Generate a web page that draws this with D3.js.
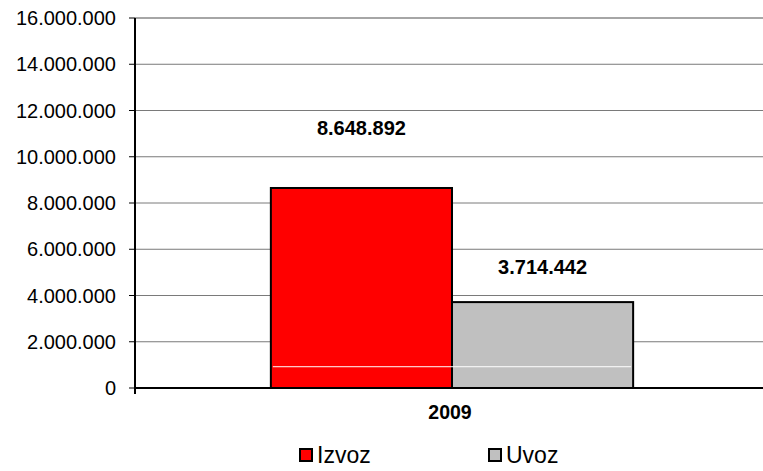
<!DOCTYPE html>
<html>
<head>
<meta charset="utf-8">
<script src="https://cdn.jsdelivr.net/npm/d3@7"></script>
<style>
  body { margin: 0; background: #fff; }
  svg { display: block; font-family: Arial, "Liberation Sans", sans-serif; }
</style>
</head>
<body>
<svg id="chart" width="763" height="471"></svg>
<script>
// Data
const categories = ['2009'];
const seriesNames = ['Izvoz', 'Uvoz'];
const seriesValues = [8648892, 3714442];
const seriesColors = ['#ff0000', '#c0c0c0'];
const yTicks = [0, 2000000, 4000000, 6000000, 8000000, 10000000, 12000000, 14000000, 16000000];

const svg = d3.select('#chart');
const plotLeft = 135, plotRight = 769, plotTop = 18, plotBottom = 388;

const fmt = v => d3.format(',')(v).replace(/,/g, '.');

const y = d3.scaleLinear().domain([0, 16000000]).range([plotBottom, plotTop]);
const x = d3.scaleBand().domain(categories).range([plotLeft, plotRight]);
const x1 = d3.scaleBand().domain(seriesNames).range([0, x.bandwidth()])
    .paddingInner(0).paddingOuter(0.75);

// gridlines
svg.append('g').selectAll('line')
    .data(yTicks.filter(t => t > 0))
    .enter().append('line')
    .attr('x1', plotLeft).attr('x2', 763)
    .attr('y1', d => y(d)).attr('y2', d => y(d))
    .attr('stroke', d => d === 16000000 ? '#a6a6a6' : '#7a7a7a')
    .attr('stroke-width', d => d === 16000000 ? 2 : 1);

// bars
const g = svg.append('g').attr('transform', `translate(${x('2009')},0)`);
g.selectAll('rect')
    .data(seriesValues)
    .enter().append('rect')
    .attr('x', (d, i) => x1(seriesNames[i]))
    .attr('y', d => y(d))
    .attr('width', x1.bandwidth())
    .attr('height', d => plotBottom - y(d))
    .attr('fill', (d, i) => seriesColors[i])
    .attr('stroke', '#000')
    .attr('stroke-width', 2);

// thin white line inside the bars
g.append('line')
    .attr('x1', x1('Izvoz') + 2).attr('x2', x1('Uvoz') + x1.bandwidth() - 2)
    .attr('y1', y(920000)).attr('y2', y(920000))
    .attr('stroke', '#fff').attr('stroke-width', 1);

// value labels
const labelGap = [53, 28];
g.selectAll('text.val')
    .data(seriesValues)
    .enter().append('text')
    .attr('class', 'val')
    .attr('x', (d, i) => x1(seriesNames[i]) + x1.bandwidth() / 2)
    .attr('y', (d, i) => y(d) - labelGap[i])
    .attr('text-anchor', 'middle')
    .attr('font-weight', 'bold')
    .attr('font-size', 20)
    .text(d => fmt(d));

// axes
svg.append('line')
    .attr('x1', plotLeft).attr('x2', 763).attr('y1', plotBottom).attr('y2', plotBottom)
    .attr('stroke', '#000').attr('stroke-width', 2);
svg.append('line')
    .attr('x1', plotLeft).attr('x2', plotLeft).attr('y1', plotTop).attr('y2', plotBottom + 6)
    .attr('stroke', '#000').attr('stroke-width', 2);

const yAxis = svg.append('g');
yAxis.selectAll('line')
    .data(yTicks)
    .enter().append('line')
    .attr('x1', plotLeft - 6).attr('x2', plotLeft)
    .attr('y1', d => y(d)).attr('y2', d => y(d))
    .attr('stroke', '#000').attr('stroke-width', 1);
yAxis.selectAll('text')
    .data(yTicks)
    .enter().append('text')
    .attr('x', 116)
    .attr('y', d => y(d) + 7)
    .attr('text-anchor', 'end')
    .attr('font-size', 20)
    .text(d => fmt(d));

// category label
svg.append('text')
    .attr('x', x('2009') + x.bandwidth() / 2 - 2)
    .attr('y', 419)
    .attr('text-anchor', 'middle')
    .attr('font-weight', 'bold')
    .attr('font-size', 19.5)
    .text('2009');

// legend
const legendX = [299, 488];
const legend = svg.append('g').selectAll('g')
    .data(seriesNames)
    .enter().append('g')
    .attr('transform', (d, i) => `translate(${legendX[i]},448)`);
legend.append('rect')
    .attr('x', 1).attr('y', 1).attr('width', 12).attr('height', 12)
    .attr('fill', (d, i) => seriesColors[i])
    .attr('stroke', '#000').attr('stroke-width', 2);
legend.append('text')
    .attr('x', 18).attr('y', 15)
    .attr('font-size', 23)
    .text(d => d);
</script>
</body>
</html>
